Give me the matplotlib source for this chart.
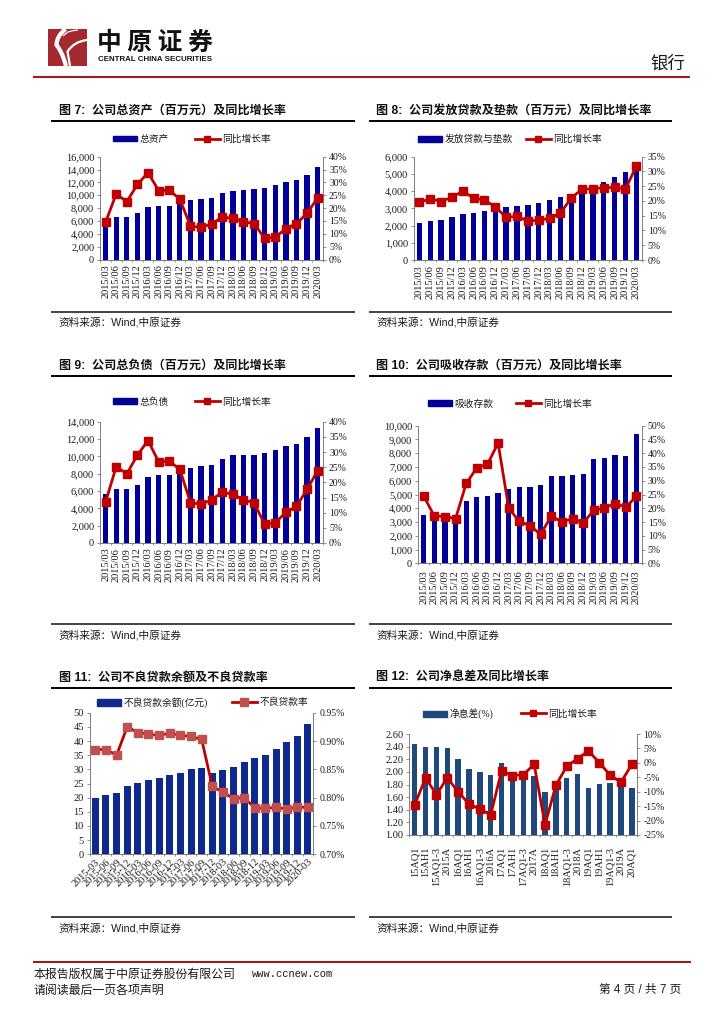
import matplotlib
matplotlib.use("Agg")
import matplotlib.pyplot as plt
from matplotlib.patches import Patch, Rectangle, PathPatch
from matplotlib.path import Path
from matplotlib.lines import Line2D
from matplotlib.ticker import FuncFormatter

plt.rcParams['font.family'] = ['Liberation Serif', 'Noto Sans CJK SC']
plt.rcParams['axes.unicode_minus'] = False
SANS = ['Liberation Sans', 'Noto Sans CJK SC']
CJK = ['Noto Sans CJK SC', 'Liberation Sans']

W, H = 724, 1024

quarters = ['2015/03', '2015/06', '2015/09', '2015/12', '2016/03', '2016/06', '2016/09', '2016/12',
            '2017/03', '2017/06', '2017/09', '2017/12', '2018/03', '2018/06', '2018/09', '2018/12',
            '2019/03', '2019/06', '2019/09', '2019/12', '2020/03']
quarters_dash = ['2015-03', '2015-06', '2015-09', '2015-12', '2016-03', '2016-06', '2016-09', '2016-12',
                 '2017-03', '2017-06', '2017-09', '2017-12', '2018-03', '2018-06', '2018-09', '2018-12',
                 '2019-03', '2019-06', '2019-09', '2019-12', '2020-03']
periods = ['15AQ1', '15AH1', '15AQ1-3', '2015A', '16AQ1', '16AH1', '16AQ1-3', '2016A',
           '17AQ1', '17AH1', '17AQ1-3', '2017A', '18AQ1', '18AH1', '18AQ1-3', '2018A',
           '19AQ1', '19AH1', '19AQ1-3', '2019A', '20AQ1']

assets = [5900, 6600, 6600, 7200, 8150, 8350, 8400, 8900, 9200, 9400, 9600, 10350, 10700, 10800,
          10900, 11200, 11600, 12050, 12400, 13200, 14400]
assets_g = [14.5, 25.5, 22.5, 29.2, 33.8, 26.8, 27.0, 23.5, 13.0, 12.5, 13.8, 16.5, 16.0, 14.7,
            14.0, 8.2, 8.7, 12.0, 14.0, 18.0, 24.0]
loans = [2150, 2250, 2350, 2500, 2660, 2730, 2830, 2900, 3050, 3150, 3220, 3330, 3460, 3640,
         3860, 4000, 4250, 4530, 4820, 5100, 5300]
loans_g = [19.5, 20.8, 19.8, 21.3, 23.3, 21.0, 20.3, 18.0, 14.5, 14.8, 13.2, 13.5, 14.1, 15.9,
           21.0, 24.0, 24.1, 24.5, 24.6, 24.0, 31.8]
debts = [5700, 6200, 6200, 6700, 7650, 7800, 7850, 8350, 8650, 8850, 8980, 9750, 10100, 10120,
         10150, 10350, 10700, 11150, 11400, 12200, 13300]
debts_g = [13.5, 25.2, 22.8, 29.0, 33.8, 26.8, 27.0, 24.3, 13.3, 12.8, 14.2, 16.8, 16.0, 14.3,
           13.2, 6.2, 6.7, 10.1, 12.1, 17.7, 23.9]
deposits = [3500, 3400, 3300, 3450, 4500, 4800, 4900, 5100, 5400, 5550, 5550, 5680, 6330, 6380,
            6450, 6480, 7550, 7650, 7850, 7800, 9400]
deposits_g = [24.5, 17.2, 17.0, 16.2, 29.0, 34.7, 36.0, 43.7, 20.0, 15.2, 13.7, 10.5, 17.2, 15.0,
              16.2, 14.7, 19.2, 20.2, 21.7, 20.4, 24.3]
npl = [20, 21, 21.5, 24, 25.3, 26.1, 27, 28, 28.8, 30, 30.4, 28.7, 29.6, 30.7, 32.6, 34, 35.1,
       37.3, 39.5, 41.7, 46]
npl_rate = [0.885, 0.885, 0.875, 0.925, 0.915, 0.912, 0.910, 0.914, 0.910, 0.908, 0.903, 0.820,
            0.810, 0.798, 0.800, 0.782, 0.781, 0.783, 0.780, 0.783, 0.783]
nim = [2.44, 2.39, 2.39, 2.38, 2.20, 2.05, 2.00, 1.95, 2.14, 2.00, 1.94, 1.94, 1.68, 1.78, 1.90,
       1.97, 1.75, 1.81, 1.83, 1.80, 1.74]
nim_g = [-14.5, -5.2, -11.0, -5.2, -10.0, -14.3, -16.0, -18.0, -2.7, -4.4, -4.1, -0.5, -21.5,
         -7.8, -1.2, 1.5, 4.1, 0.1, -4.3, -6.7, -0.5]

ticks_7 = [0, 2000, 4000, 6000, 8000, 10000, 12000, 14000, 16000]
ticks_8 = [0, 1000, 2000, 3000, 4000, 5000, 6000]
ticks_9 = [0, 2000, 4000, 6000, 8000, 10000, 12000, 14000]
ticks_10 = [0, 1000, 2000, 3000, 4000, 5000, 6000, 7000, 8000, 9000, 10000]
ticks_11 = [0, 5, 10, 15, 20, 25, 30, 35, 40, 45, 50]
ticks_12 = [1.0, 1.2, 1.4, 1.6, 1.8, 2.0, 2.2, 2.4, 2.6]
pct_40 = [0, 5, 10, 15, 20, 25, 30, 35, 40]
pct_35 = [0, 5, 10, 15, 20, 25, 30, 35]
pct_50 = [0, 5, 10, 15, 20, 25, 30, 35, 40, 45, 50]
pct_npl = [0.70, 0.75, 0.80, 0.85, 0.90, 0.95]
pct_nim = [-25, -20, -15, -10, -5, 0, 5, 10]

NAVY, RED, GREY = '#000099', '#C00000', '#808080'
INK = '#1a1a1a'
TICK_SIZE = 7.5
RIGHT_SIZE = 7.0

fig = plt.figure(figsize=(W / 100, H / 100), dpi=100)
fig.patch.set_facecolor('white')


def fx(x):
    return x / W


def fy(y):
    return 1 - y / H


def combo(box, cats, bars, line, yt, rt, yfmt, rfmt, bar_name, line_name, leg_y, leg_x, pad_px,
          bar_c=NAVY, bar_w=0.5, line_c=RED, mark_c=RED, ms=5.6, hh=0.55, rot=90):
    l, r, t, b = box
    ax = fig.add_axes([fx(l), fy(b), (r - l) / W, (b - t) / H])
    n = len(cats)
    xs = list(range(n))
    ax.bar(xs, bars, width=bar_w, color=bar_c, zorder=2)
    ax.set_xlim(-0.5, n - 0.5)
    ax.set_ylim(yt[0], yt[-1])
    ax.set_yticks(yt)
    ax.yaxis.set_major_formatter(FuncFormatter(yfmt))
    ax.set_xticks(xs)
    ax.set_xticks([i - 0.5 for i in range(n + 1)], minor=True)
    pad_pt = pad_px * 0.72
    if rot == 90:
        ax.set_xticklabels(cats, rotation=90, ha='center', va='top', fontsize=TICK_SIZE, color=INK)
    else:
        ax.set_xticklabels(cats, rotation=rot, ha='right', va='top', rotation_mode='anchor',
                           fontsize=TICK_SIZE, color=INK)
    ax.tick_params(axis='x', which='major', length=0, pad=pad_pt)
    ax.tick_params(axis='x', which='minor', length=1.6, width=0.6, color=GREY)
    ax.tick_params(axis='y', length=2.4, width=0.6, color=GREY, labelsize=TICK_SIZE, labelcolor=INK, pad=2)
    ax.spines['top'].set_visible(False)
    for s in ('left', 'bottom', 'right'):
        ax.spines[s].set_color(GREY)
        ax.spines[s].set_linewidth(0.7)
    ax2 = ax.twinx()
    ax2.plot(xs, line, color=line_c, lw=2.0, marker='s', ms=ms, mfc=mark_c, mec=mark_c, zorder=3,
             clip_on=False, solid_joinstyle='miter')
    ax2.set_ylim(rt[0], rt[-1])
    ax2.set_yticks(rt)
    ax2.yaxis.set_major_formatter(FuncFormatter(rfmt))
    ax2.tick_params(axis='y', length=2.4, width=0.6, color=GREY, labelsize=RIGHT_SIZE, labelcolor=INK, pad=2)
    ax2.spines['top'].set_visible(False)
    for s in ('left', 'bottom', 'right'):
        ax2.spines[s].set_color(GREY)
        ax2.spines[s].set_linewidth(0.7)
    common = dict(frameon=False, loc='center left', borderpad=0, borderaxespad=0, fontsize=7,
                  handletextpad=0.25, labelcolor=INK, bbox_transform=fig.transFigure)
    l1 = ax2.legend([Patch(color=bar_c)], [bar_name], bbox_to_anchor=(fx(leg_x[0]), fy(leg_y)),
                    handlelength=2.45, handleheight=hh, **common)
    ax2.add_artist(l1)
    ax2.legend([Line2D([], [], color=line_c, lw=2.0, marker='s', ms=ms * 0.85, mfc=mark_c, mec=mark_c)],
               [line_name], bbox_to_anchor=(fx(leg_x[1]), fy(leg_y)), handlelength=2.55, **common)
    return ax


thousands = lambda v, _: f'{int(v):,}'
pct0 = lambda v, _: f'{int(v)}%'
two = lambda v, _: f'{v:.2f}'
pct2 = lambda v, _: f'{v:.2f}%'
plain = lambda v, _: f'{int(v)}'

G = '同比增长率'
combo((100.3, 323, 156.7, 259.5), quarters, assets, assets_g, ticks_7, pct_40, thousands, pct0,
      '总资产', G, 139.3, (113, 195), 5)
combo((414, 641.7, 156.7, 260), quarters, loans, loans_g, ticks_8, pct_35, thousands, pct0,
      '发放贷款与垫款', G, 139.3, (418, 526), 5.5)
combo((100.3, 323, 421.7, 543), quarters, debts, debts_g, ticks_9, pct_40, thousands, pct0,
      '总负债', G, 402, (113, 195), 4.7)
combo((418.3, 641.7, 425.7, 563.3), quarters, deposits, deposits_g, ticks_10, pct_50, thousands, pct0,
      '吸收存款', G, 404, (428, 516), 7)
combo((90, 313.3, 712.7, 854.3), quarters_dash, npl, npl_rate, ticks_11, pct_npl, plain, pct2,
      '不良贷款余额(亿元)', '不良贷款率', 702.7, (97, 232), 3,
      bar_c='#0E2A8C', bar_w=0.66, line_c='#C00000', mark_c='#C0504D', ms=6, hh=0.75, rot=45)
combo((409.3, 637.3, 734, 835), periods, nim, nim_g, ticks_12, pct_nim, two, pct0,
      '净息差(%)', G, 714, (423, 521), 12, bar_c='#1F497D', bar_w=0.5)

# page furniture in pixel coordinates
ov = fig.add_axes([0, 0, 1, 1], zorder=10)
ov.set_xlim(0, W)
ov.set_ylim(H, 0)
ov.axis('off')
ov.patch.set_alpha(0)

DARKRED = '#9E1B1F'
ov.plot([33, 690], [76.7, 76.7], color=DARKRED, lw=1.5, solid_capstyle='butt')
ov.plot([33, 691], [962, 962], color=DARKRED, lw=1.5, solid_capstyle='butt')

# logo
ov.add_patch(Rectangle((48.3, 29), 39, 37, color='#A32A2E', lw=0))
logo_strokes = [
    ([(65.7, 29), (56.5, 36), (56.5, 45), (62.3, 52), (66, 66)], 3.0),
    ([(87, 40), (74, 41.5), (67.5, 51.5), (69, 60), (70, 66)], 1.6),
    ([(78, 30), (72, 30.5), (68, 32), (65, 34), (63, 36)], 0.9),
]
for verts, lw in logo_strokes:
    codes = [Path.MOVETO, Path.CURVE3, Path.CURVE3, Path.CURVE3, Path.CURVE3]
    ov.add_patch(PathPatch(Path(verts, codes), fc='none', ec='white', lw=lw))
ov.text(97, 43, '中 原 证 券', family=CJK, weight='bold', fontsize=17.8, color='#111111',
        va='center', ha='left')
ov.text(98, 59.8, 'CENTRAL CHINA SECURITIES', family=SANS, weight='bold', fontsize=5.7,
        color='#111111', va='center', ha='left')
ov.text(650, 63.5, '银行', family=CJK, fontsize=12.5, color=INK, va='center', ha='left')

titles = [
    (59, 110.5, '图 7:  公司总资产（百万元）及同比增长率'),
    (376, 110.5, '图 8:  公司发放贷款及垫款（百万元）及同比增长率'),
    (59, 366, '图 9:  公司总负债（百万元）及同比增长率'),
    (376, 366, '图 10:  公司吸收存款（百万元）及同比增长率'),
    (59, 678, '图 11:  公司不良贷款余额及不良贷款率'),
    (376, 678, '图 12:  公司净息差及同比增长率'),
]
for x, y, s in titles:
    ov.text(x, y, s, family=SANS, weight='bold', fontsize=8.7, color='#111111', va='center', ha='left')

columns = [(51, 355), (369, 672)]
rows = [(120.7, 312, 322), (375.7, 624, 635), (687.7, 917.3, 927.7)]
for x0, x1 in columns:
    for top, bot, src in rows:
        ov.plot([x0, x1], [top, top], color='black', lw=1.4, solid_capstyle='butt')
        ov.plot([x0, x1], [bot, bot], color='#222222', lw=1.2, solid_capstyle='butt')
        ov.text(x0 + 7, src, '资料来源：Wind,中原证券', family=SANS, fontsize=7.7, color=INK,
                va='center', ha='left')

ov.text(34, 974, '本报告版权属于中原证券股份有限公司', family=CJK, fontsize=8.6, color=INK, va='center', ha='left')
ov.text(252, 974, 'www.ccnew.com', family='Liberation Mono', fontsize=7.5, color=INK, va='center', ha='left')
ov.text(34, 990, '请阅读最后一页各项声明', family=CJK, fontsize=8.6, color=INK, va='center', ha='left')
ov.text(681, 990, '第 4 页 / 共 7 页', family=SANS, fontsize=8.4, color=INK, va='center', ha='right')

fig.savefig('out.png', dpi=100)
